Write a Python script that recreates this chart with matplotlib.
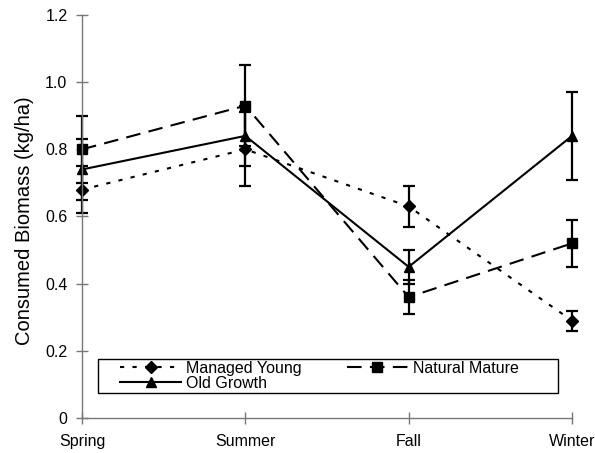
import numpy as np
import matplotlib
matplotlib.use('Agg')
import matplotlib.pyplot as plt
from matplotlib.lines import Line2D
from matplotlib.patches import Rectangle
from matplotlib.ticker import FuncFormatter

plt.rcParams['font.family'] = ['Liberation Sans', 'DejaVu Sans']

seasons = ['Spring', 'Summer', 'Fall', 'Winter']

managed_young = [0.68, 0.80, 0.63, 0.29]
managed_young_err = [0.07, 0.11, 0.06, 0.03]

natural_mature = [0.80, 0.93, 0.36, 0.52]
natural_mature_err = [0.10, 0.12, 0.05, 0.07]

old_growth = [0.74, 0.84, 0.45, 0.84]
old_growth_err = [0.09, 0.09, 0.05, 0.13]

x = np.arange(len(seasons))

W, H = 595, 453
fig = plt.figure(figsize=(W / 100, H / 100), dpi=100)
ax = fig.add_axes([82 / W, 1 - 418 / H, 490 / W, 403 / H])

series = [
    ('Managed Young', managed_young, managed_young_err, 'D', 6.5, (0, (2, 4))),
    ('Natural Mature', natural_mature, natural_mature_err, 's', 7, (0, (7, 4))),
    ('Old Growth', old_growth, old_growth_err, '^', 7, '-'),
]

handles = {}
for name, vals, err, mk, ms, ls in series:
    cont = ax.errorbar(x, vals, yerr=err, marker=mk, markersize=ms, linestyle=ls,
                       color='black', ecolor='black', elinewidth=1.6, capsize=4.5,
                       capthick=1.6, linewidth=1.5)
    for art in cont.get_children():
        art.set_clip_on(False)
    handles[name] = Line2D([], [], color='black', marker=mk, markersize=ms,
                           linestyle=ls, linewidth=1.5)

ax.set_xlim(0, 3)
ax.set_ylim(0, 1.2)
ax.set_xticks(x)
ax.set_xticklabels(seasons)
ax.set_yticks(np.arange(0, 1.21, 0.2))
ax.yaxis.set_major_formatter(FuncFormatter(lambda v, p: '0' if abs(v) < 1e-9 else '%.1f' % v))

for s in ['top', 'right']:
    ax.spines[s].set_visible(False)
for s in ['left', 'bottom']:
    ax.spines[s].set_color('#777777')
    ax.spines[s].set_linewidth(1.0)

ax.tick_params(axis='both', direction='inout', length=9, width=1.0,
               color='#777777', labelsize=11.5)
ax.tick_params(axis='y', pad=6)
ax.tick_params(axis='x', pad=7)

fig.text(25 / W, 1 - 221 / H, 'Consumed Biomass (kg/ha)', rotation=90,
         ha='center', va='center', fontsize=14.5)

# legend box drawn separately so the entries can sit where the original has them
box = Rectangle((98 / W, 1 - 393 / H), (558 - 98) / W, 34 / H, transform=fig.transFigure,
                facecolor='white', edgecolor='black', linewidth=1.0, zorder=4,
                clip_on=False)
ax.add_artist(box)

order = ['Managed Young', 'Old Growth', 'Natural Mature']
leg = ax.legend([handles[n] for n in order], order,
                ncol=2, loc='center left',
                bbox_to_anchor=((120 - 82) / 490, (418 - 376) / 403),
                fontsize=11.5, frameon=False,
                handlelength=3.85, handletextpad=0.3, labelspacing=0.0,
                borderpad=0, borderaxespad=0, columnspacing=2.8)
leg.set_zorder(5)

fig.savefig('out.png', dpi=100)
